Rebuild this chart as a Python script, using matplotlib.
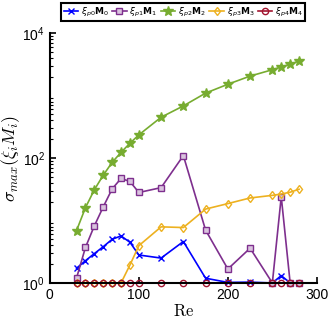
import numpy as np
import matplotlib
matplotlib.use('Agg')
import matplotlib.pyplot as plt
from matplotlib.ticker import LogLocator, NullFormatter, FixedLocator
from matplotlib.font_manager import FontProperties

plt.rcParams['font.family'] = ['Liberation Sans', 'DejaVu Sans']
plt.rcParams['mathtext.fontset'] = 'cm'

# 数据
re = [30, 40, 50, 60, 70, 80, 90, 100, 125, 150, 175, 200, 225, 250, 260, 270, 280]
xi0 = [1.72, 2.27, 2.95, 3.8, 5.0, 5.65, 4.47, 2.8, 2.5, 4.6, 1.19, 1.02, 1.03, 1.0, 1.31, 1.0, 1.0]
xi1 = [1.2, 3.7, 8.2, 16.5, 32, 47, 42, 28, 33.5, 109, 7.0, 1.67, 3.6, 1.0, 24, 1.0, 1.0]
xi2 = [6.9, 16, 31, 53, 85, 123, 172, 234, 448, 680, 1090, 1510, 2040, 2580, 2860, 3150, 3560]
xi3 = [1.0, 1.0, 1.0, 1.0, 1.0, 1.0, 1.94, 3.95, 7.9, 7.7, 15.2, 18.6, 22.9, 25.2, 26.5, 28.3, 31.6]
xi4 = [1.0] * 17

labels = [r'$\xi_{p0}\mathbf{M}_0$', r'$\xi_{p1}\mathbf{M}_1$', r'$\xi_{p2}\mathbf{M}_2$',
          r'$\xi_{p3}\mathbf{M}_3$', r'$\xi_{p4}\mathbf{M}_4$']

fig = plt.figure(figsize=(3.28, 3.23), dpi=100)
ax = fig.add_axes([0.152, 0.124, 0.814, 0.774])

kw = dict(lw=1.2, ms=4.5, clip_on=False)
ax.plot(re, xi0, color='#0000FF', marker='x', label=labels[0], **kw)
ax.plot(re, xi1, color='#7E2F8E', marker='s', mfc='#D9C3DE', label=labels[1], **kw)
ax.plot(re, xi2, color='#77AC30', marker='*', label=labels[2], lw=1.2, ms=7, clip_on=False)
ax.plot(re, xi3, color='#EDB120', marker='d', mfc='none', label=labels[3], **kw)
ax.plot(re, xi4, color='#A2142F', marker='o', mfc='none', label=labels[4], **kw)

ax.set_yscale('log')
ax.set_xlim(0, 300)
ax.set_ylim(1, 1e4)
ax.xaxis.set_major_locator(FixedLocator([0, 100, 200, 300]))
ax.yaxis.set_major_locator(FixedLocator([1, 1e2, 1e4]))
ax.yaxis.set_minor_locator(LogLocator(base=10, subs=np.arange(2, 10), numticks=20))
ax.yaxis.set_minor_formatter(NullFormatter())

for s in ['top', 'right']:
    ax.spines[s].set_visible(False)
for s in ['left', 'bottom']:
    ax.spines[s].set_linewidth(1.5)
ax.tick_params(which='both', direction='in', labelsize=10)
ax.tick_params(which='major', length=4, width=1.2)
ax.tick_params(which='minor', length=2, width=0.8)

ax.set_xlabel(r'$\mathrm{Re}$', fontsize=12, labelpad=1)
ax.set_ylabel(r'$\sigma_{max}(\xi_i M_i)$', fontsize=13, labelpad=0)

legfont = FontProperties(family='Liberation Sans', size=6.5, math_fontfamily='dejavusans')
leg = ax.legend(loc='lower center', bbox_to_anchor=(0.5, 1.03), ncol=5, prop=legfont,
                handlelength=1.6, handletextpad=0.3, columnspacing=0.4,
                borderpad=0.25, fancybox=False, framealpha=1, edgecolor='black')
leg.get_frame().set_linewidth(1.5)

plt.savefig('out.png', dpi=100)
